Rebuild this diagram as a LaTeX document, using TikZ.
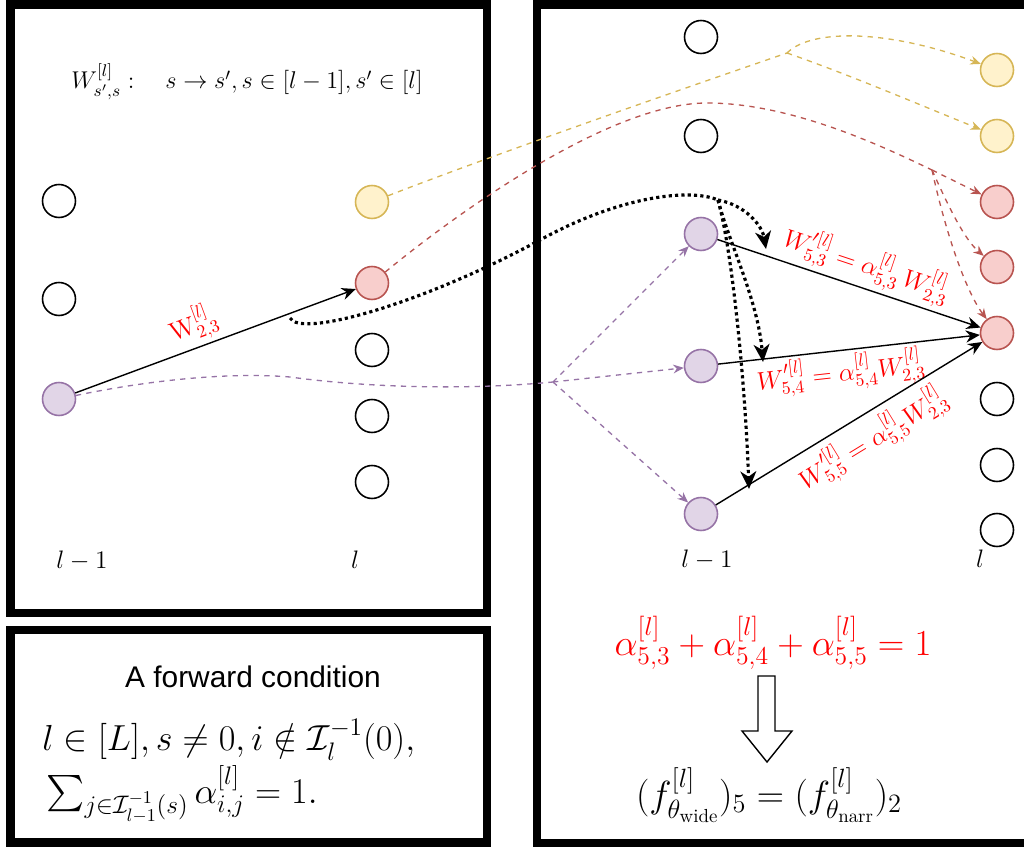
\RequirePackage{fix-cm}
\documentclass[tikz,border=0pt]{standalone}
\usepackage{amsmath,amssymb}
\usepackage{fontspec}
\newfontfamily\arialfont{Liberation Sans}
\usepackage{tikz}
\usetikzlibrary{arrows.meta, calc, positioning}

\definecolor{ylwline}{HTML}{D6B656}
\definecolor{ylwfill}{HTML}{FFF2CC}
\definecolor{redline}{HTML}{B85450}
\definecolor{redfill}{HTML}{F8CECC}
\definecolor{prpline}{HTML}{9673A6}
\definecolor{prpfill}{HTML}{E1D5E7}
\definecolor{lblred}{HTML}{FF0000}

\begin{document}
\begin{tikzpicture}[x=0.02cm, y=-0.02cm,
    neuron/.style={circle, draw, line width=0.9pt, minimum size=0.66cm, inner sep=0pt},
    ylwn/.style={neuron, draw=ylwline, fill=ylwfill},
    redn/.style={neuron, draw=redline, fill=redfill},
    prpn/.style={neuron, draw=prpline, fill=prpfill},
    panel/.style={line width=4.8pt},
    trail/.style={dashed, line width=0.75pt},
    link/.style={trail, -{Stealth[length=6pt, width=5pt]}},
    wgt/.style={line width=0.8pt, -{Stealth[length=8pt, width=7pt]}},
    hop/.style={line width=1.8pt, dash pattern=on 1.8pt off 1.8pt},
    hoparr/.style={hop, -{Stealth[length=10pt, width=9pt, inset=3pt]}},
    wlabel/.style={text=lblred, font=\fontsize{14.5}{17}\selectfont, sloped, inner sep=2pt},
    layer/.style={font=\fontsize{14.4}{17}\selectfont, anchor=base}
]
    \useasboundingbox (0,0) rectangle (1024,847);

    % Panels
    \draw[panel] (10.5,4.5) rectangle (487,613);
    \draw[panel] (10.5,630) rectangle (487,842.5);
    \draw[panel] (537,4.5) rectangle (1060,843);

    % Left panel: layer l-1
    \node[neuron] (la1) at (59,201) {};
    \node[neuron] (la2) at (59,299) {};
    \node[prpn] (la3) at (59,399) {};

    % Left panel: layer l
    \node[ylwn] (lb1) at (372,202) {};
    \node[redn] (lb2) at (372,283) {};
    \foreach \i/\y in {3/350, 4/416, 5/482}
        \node[neuron] (lb\i) at (372,\y) {};

    % Right panel: layer l-1
    \node[neuron] (ra1) at (701,37) {};
    \node[neuron] (ra2) at (701,136) {};
    \node[prpn] (ra3) at (701,234) {};
    \node[prpn] (ra4) at (701,366) {};
    \node[prpn] (ra5) at (701,514) {};

    % Right panel: layer l
    \node[ylwn] (rb1) at (997,70) {};
    \node[ylwn] (rb2) at (997,136) {};
    \node[redn] (rb3) at (997,202) {};
    \node[redn] (rb4) at (997,267) {};
    \node[redn] (rb5) at (997,333) {};
    \foreach \i/\y in {6/399, 7/465, 8/530}
        \node[neuron] (rb\i) at (997,\y) {};

    % Layer names and header
    \node[layer] (lnl1) at (82,568) {$l-1$};
    \node[layer] (lnl2) at (355,568) {$l$};
    \node[layer] (rnl1) at (707,567) {$l-1$};
    \node[layer] (rnl2) at (980,567) {$l$};
    \node[layer, font=\fontsize{13.8}{16}\selectfont] (hdr) at (247,89)
        {$W^{[l]}_{s',s}:\quad s\rightarrow s', s\in[l-1], s'\in[l]$};

    % Weights
    \draw[wgt] (la3) -- node[wlabel, above, pos=0.45] {$\mathrm{W}^{[l]}_{2,3}$} (lb2);
    \draw[wgt] (ra3) -- node[wlabel, above, pos=0.54] {$W^{\prime[l]}_{5,3}=\alpha^{[l]}_{5,3}\,W^{[l]}_{2,3}$} (rb5);
    \draw[wgt] (ra4) -- node[wlabel, below, pos=0.46] {$W^{\prime[l]}_{5,4}=\alpha^{[l]}_{5,4}W^{[l]}_{2,3}$} (rb5);
    \draw[wgt] (ra5) -- node[wlabel, below=2pt, pos=0.54] {$W^{\prime[l]}_{5,5}=\alpha^{[l]}_{5,5}W^{[l]}_{2,3}$} (rb5);

    % Yellow copies
    \coordinate (ysplit) at (787,53);
    \draw[trail, ylwline] (lb1) .. controls (480,160) and (650,100) .. (ysplit);
    \draw[link, ylwline] (ysplit) .. controls (812,28) and (890,30) .. (rb1);
    \draw[link, ylwline] (ysplit) .. controls (850,75) and (920,105) .. (rb2);

    % Red copies
    \coordinate (rsplit) at (932,170);
    \draw[trail, redline] (lb2) .. controls (430,235) and (600,103) .. (707,103)
        .. controls (790,103) and (880,145) .. (rsplit);
    \draw[link, redline] (rsplit) -- (rb3);
    \draw[link, redline] (rsplit) .. controls (950,210) and (965,240) .. (rb4);
    \draw[link, redline] (rsplit) .. controls (945,230) and (965,290) .. (rb5);

    % Purple copies
    \coordinate (psplit) at (553,382);
    \draw[trail, prpline] (la3) .. controls (150,380) and (230,372) .. (290,377)
        .. controls (370,388) and (470,390) .. (psplit);
    \draw[link, prpline] (psplit) -- (ra3);
    \draw[link, prpline] (psplit) -- (ra4);
    \draw[link, prpline] (psplit) -- (ra5);

    % Dotted split of the weight
    \coordinate (dstart) at (290,318);
    \coordinate (dsplit) at (718,200);
    \coordinate (hit3) at (766,249);
    \coordinate (hit4) at (763,362);
    \coordinate (hit5) at (749,489);
    \draw[hop] (dstart) .. controls (300,338) and (420,305) .. (540,240)
        .. controls (620,196) and (690,188) .. (dsplit);
    \draw[hoparr] (dsplit) .. controls (745,205) and (762,225) .. (hit3);
    \draw[hoparr] (dsplit) .. controls (728,240) and (758,300) .. (hit4);
    \draw[hoparr] (dsplit) .. controls (732,250) and (745,380) .. (hit5);

    % Sum of alphas and result
    \node[text=lblred, font=\fontsize{20.9}{24}\selectfont, anchor=base] (asum) at (773,655)
        {$\alpha^{[l]}_{5,3}+\alpha^{[l]}_{5,4}+\alpha^{[l]}_{5,5}=1$};
    \draw[line width=0.8pt, fill=white] (758,676) -- (775,676) -- (775,731) -- (792,731)
        -- (767,762) -- (742,731) -- (758,731) -- cycle;
    \node[font=\fontsize{21.5}{25}\selectfont, anchor=base] (feq) at (769,807)
        {$(f^{[l]}_{\theta_{\mathrm{wide}}})_5=(f^{[l]}_{\theta_{\mathrm{narr}}})_2$};

    % Forward condition
    \node[font=\arialfont\fontsize{17}{20}\selectfont, anchor=base] (fwd) at (253,687) {A forward condition};
    \node[font=\fontsize{20.6}{24}\selectfont, anchor=base west, inner sep=0pt] (cond1) at (42,750)
        {$l\in[L], s\neq 0, i\notin\mathcal{I}_l^{-1}(0),$};
    \node[font=\fontsize{20.6}{24}\selectfont, anchor=base west, inner sep=0pt] (cond2) at (46,803)
        {$\sum_{j\in\mathcal{I}^{-1}_{l-1}(s)}\alpha^{[l]}_{i,j}=1.$};
\end{tikzpicture}
\end{document}
